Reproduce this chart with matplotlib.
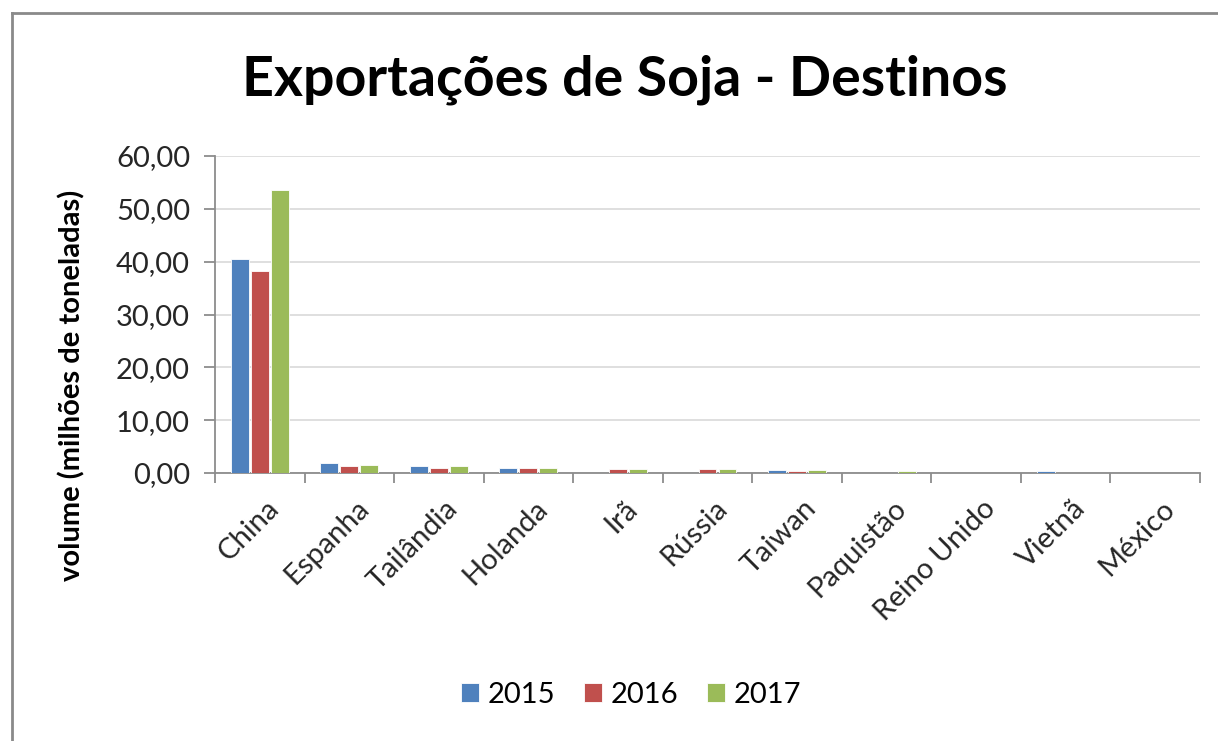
import numpy as np
import matplotlib.pyplot as plt
import matplotlib.transforms as mtransforms
from matplotlib.ticker import FuncFormatter, FixedLocator
from matplotlib.lines import Line2D

plt.rcParams['font.family'] = ['Lato', 'DejaVu Sans']

# dados (milhões de toneladas)
destinos = ['China', 'Espanha', 'Tailândia', 'Holanda', 'Irã', 'Rússia',
            'Taiwan', 'Paquistão', 'Reino Unido', 'Vietnã', 'México']
anos = ['2015', '2016', '2017']
v2015 = [40.5, 1.9, 1.3, 1.0, 0.0, 0.0, 0.6, 0.0, 0.0, 0.3, 0.0]
v2016 = [38.3, 1.3, 1.0, 1.0, 0.7, 0.7, 0.3, 0.0, 0.0, 0.0, 0.0]
v2017 = [53.5, 1.6, 1.3, 0.9, 0.7, 0.7, 0.6, 0.3, 0.0, 0.0, 0.0]
cores = ['#4F81BD', '#C0504D', '#9BBB59']

fig = plt.figure(figsize=(12.18, 7.41), dpi=100)
ax = fig.add_axes([215 / 1218, 1 - 473 / 741, 985 / 1218, 317 / 741])

x = np.arange(len(destinos))
larg = 0.2
passo = 0.223
for k, (serie, cor, ano) in enumerate(zip([v2015, v2016, v2017], cores, anos)):
    ax.bar(x + (k - 1) * passo, serie, larg, color=cor, edgecolor='white',
           linewidth=0.6, label=ano, zorder=3)

ax.set_xlim(-0.5, len(destinos) - 0.5)
ax.set_ylim(0, 60)
ax.set_yticks(np.arange(0, 61, 10))
ax.yaxis.set_major_formatter(FuncFormatter(lambda v, p: f'{v:.2f}'.replace('.', ',')))
ax.grid(axis='y', color='#D9D9D9', linewidth=1.2, zorder=0)

# rótulos das categorias e marcas nas divisões (estilo Excel)
ax.set_xticks(x)
ax.set_xticklabels(destinos, rotation=45, ha='right', rotation_mode='anchor')
ax.tick_params(axis='x', which='major', length=0, labelsize=21, colors='#262626', pad=16)
desloc = mtransforms.ScaledTranslation(6 / 100, 0, fig.dpi_scale_trans)
for lbl in ax.get_xticklabels():
    lbl.set_transform(lbl.get_transform() + desloc)
ax.xaxis.set_minor_locator(FixedLocator(np.arange(-0.5, len(destinos), 1.0)))
ax.tick_params(axis='x', which='minor', length=7, width=1.3, color='#8C8C8C')
ax.tick_params(axis='y', length=8, width=1.3, color='#8C8C8C', labelsize=21,
               labelcolor='#262626', pad=10)

for s in ['top', 'right']:
    ax.spines[s].set_visible(False)
for s in ['left', 'bottom']:
    ax.spines[s].set_color('#8C8C8C')
    ax.spines[s].set_linewidth(1.3)

ax.set_ylabel('volume (milhões de toneladas)', fontsize=21, fontweight='bold')
ax.yaxis.set_label_coords((85 - 215) / 985, ((1 - 385 / 741) - (1 - 473 / 741)) / (317 / 741))

fig.text(625 / 1218, 1 - 80 / 741, 'Exportações de Soja - Destinos', ha='center', va='center',
         fontsize=40, fontweight='bold', color='black')

fig.legend(loc='center', bbox_to_anchor=(631 / 1218, 1 - 695 / 741),
           ncol=3, frameon=False, fontsize=21, handlelength=0.6, handleheight=0.6,
           handletextpad=0.3, columnspacing=1.0)

# moldura do gráfico (somente topo e lado esquerdo visíveis)
fig.add_artist(Line2D([12 / 1218, 1.0], [1 - 13 / 741, 1 - 13 / 741],
                      transform=fig.transFigure, color='#8A8A8A', linewidth=2))
fig.add_artist(Line2D([12 / 1218, 12 / 1218], [0.0, 1 - 13 / 741],
                      transform=fig.transFigure, color='#8A8A8A', linewidth=2))

fig.savefig('out.png', dpi=100)
